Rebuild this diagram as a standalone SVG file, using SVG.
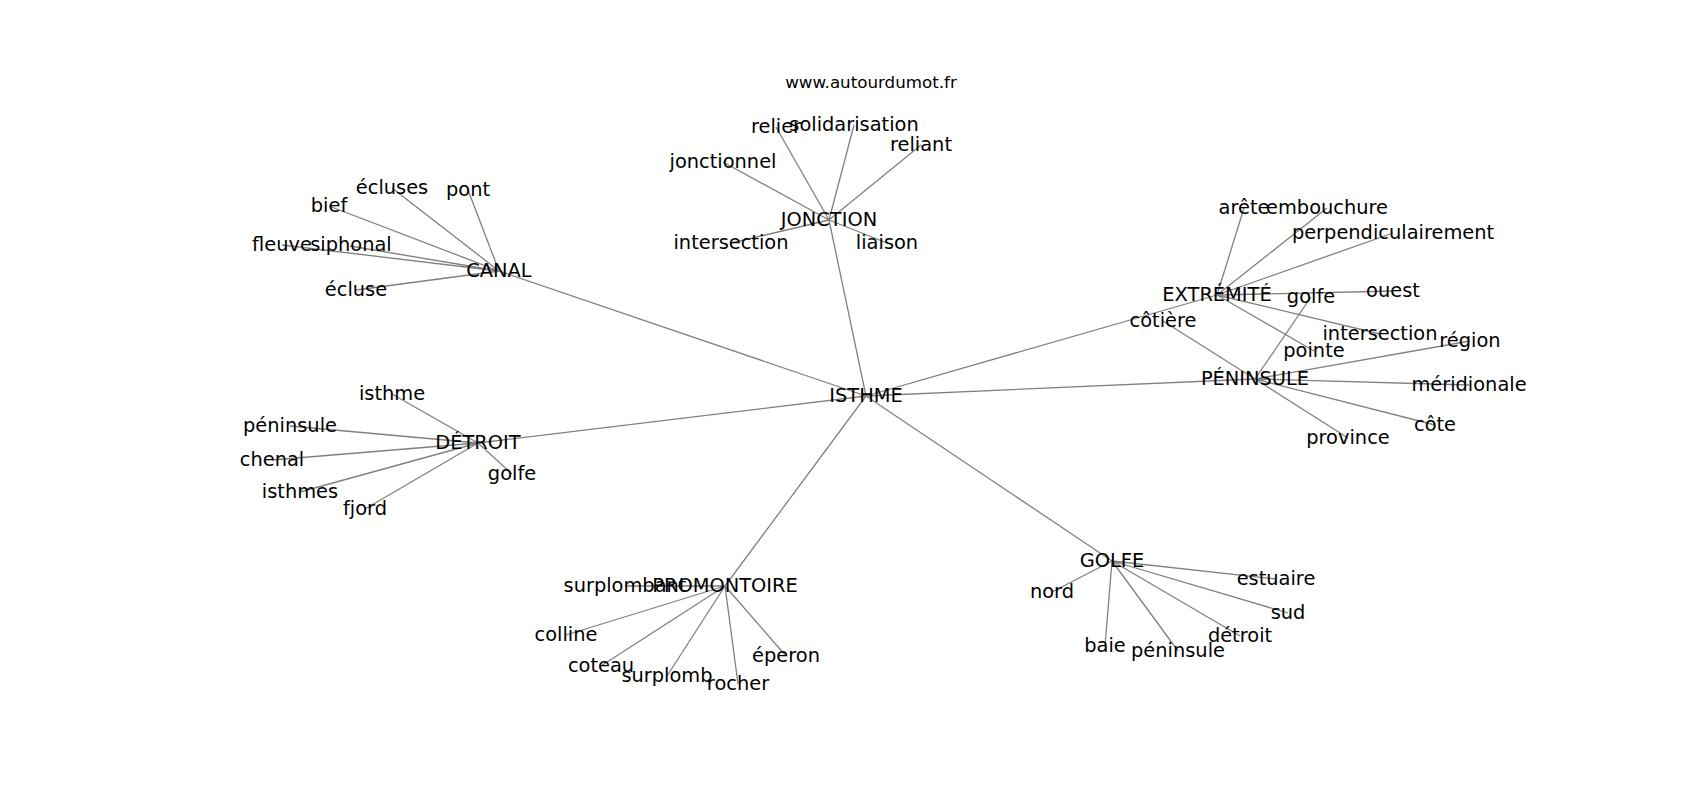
<svg xmlns="http://www.w3.org/2000/svg" width="1700" height="800" viewBox="0 0 1700 800">
<style>
.e{stroke:#808080;stroke-width:1.3;fill:none}
.n text{font-family:"DejaVu Sans",Verdana,sans-serif;font-size:19.4px;fill:#000;text-anchor:middle}
.t{font-family:"DejaVu Sans",Verdana,sans-serif;font-size:16.7px;fill:#000;text-anchor:middle}
</style>
<rect width="1700" height="800" fill="#fff"/>
<text class="t" x="871" y="88">www.autourdumot.fr</text>
<g id="edges" class="e">
<path d="M866 396L829 220M866 396L499 271M866 396L478 443M866 396L725 586M866 396L1112 561M866 396L1217 295M866 396L1255 379"/>
<path d="M829 220L776 127M829 220L854 125M829 220L921 145M829 220L723 162M829 220L731 243M829 220L887 243"/>
<path d="M499 271L392 188M499 271L468 190M499 271L329 206M499 271L282 245M499 271L350 246M499 271L356 290"/>
<path d="M478 443L392 394M478 443L290 426M478 443L272 460M478 443L300 492M478 443L365 509M478 443L512 474"/>
<path d="M725 586L625 586M725 586L566 635M725 586L601 666M725 586L667 676M725 586L738 684M725 586L786 656"/>
<path d="M1112 561L1052 592M1112 561L1276 579M1112 561L1288 613M1112 561L1240 636M1112 561L1178 651M1112 561L1105 646"/>
<path d="M1217 295L1244 208M1217 295L1327 208M1217 295L1393 233M1217 295L1393 291M1217 295L1380 334M1217 295L1314 351"/>
<path d="M1255 379L1163 321M1255 379L1311 297M1255 379L1470 341M1255 379L1469 385M1255 379L1435 425M1255 379L1348 438"/>
</g>
<g class="n">
<g id="n-isthme-c"><text x="866" y="401.5">ISTHME</text></g>
<g id="n-jonction"><text x="829" y="225.5">JONCTION</text></g>
<g id="n-relier"><text x="776" y="132.5">relier</text></g>
<g id="n-solidarisation"><text x="854" y="130.5">solidarisation</text></g>
<g id="n-reliant"><text x="921" y="150.5">reliant</text></g>
<g id="n-jonctionnel"><text x="723" y="167.5">jonctionnel</text></g>
<g id="n-intersection-j"><text x="731" y="248.5">intersection</text></g>
<g id="n-liaison"><text x="887" y="248.5">liaison</text></g>
<g id="n-canal"><text x="499" y="276.5">CANAL</text></g>
<g id="n-ecluses"><text x="392" y="193.5">écluses</text></g>
<g id="n-pont"><text x="468" y="195.5">pont</text></g>
<g id="n-bief"><text x="329" y="211.5">bief</text></g>
<g id="n-fleuve"><text x="282" y="251">fleuve</text></g>
<g id="n-siphonal"><text x="351" y="251">siphonal</text></g>
<g id="n-ecluse"><text x="356" y="295.5">écluse</text></g>
<g id="n-detroit-c"><text x="478" y="448.5">DÉTROIT</text></g>
<g id="n-isthme"><text x="392" y="399.5">isthme</text></g>
<g id="n-peninsule-d"><text x="290" y="431.5">péninsule</text></g>
<g id="n-chenal"><text x="272" y="465.5">chenal</text></g>
<g id="n-isthmes"><text x="300" y="497.5">isthmes</text></g>
<g id="n-fjord"><text x="365" y="514.5">fjord</text></g>
<g id="n-golfe-d"><text x="512" y="479.5">golfe</text></g>
<g id="n-promontoire"><text x="725" y="591.5">PROMONTOIRE</text></g>
<g id="n-surplombant"><text x="625" y="591.5">surplombant</text></g>
<g id="n-colline"><text x="566" y="640.5">colline</text></g>
<g id="n-coteau"><text x="601" y="671.5">coteau</text></g>
<g id="n-surplomb"><text x="667" y="681.5">surplomb</text></g>
<g id="n-rocher"><text x="738" y="689.5">rocher</text></g>
<g id="n-eperon"><text x="786" y="661.5">éperon</text></g>
<g id="n-golfe-c"><text x="1112" y="566.5">GOLFE</text></g>
<g id="n-nord"><text x="1052" y="597.5">nord</text></g>
<g id="n-estuaire"><text x="1276" y="584.5">estuaire</text></g>
<g id="n-sud"><text x="1288" y="618.5">sud</text></g>
<g id="n-detroit"><text x="1240" y="641.5">détroit</text></g>
<g id="n-peninsule-g"><text x="1178" y="656.5">péninsule</text></g>
<g id="n-baie"><text x="1105" y="651.5">baie</text></g>
<g id="n-extremite"><text x="1217" y="300.5">EXTRÉMITÉ</text></g>
<g id="n-arete"><text x="1244" y="213.5">arête</text></g>
<g id="n-embouchure"><text x="1327" y="213.5">embouchure</text></g>
<g id="n-perpendiculairement"><text x="1393" y="238.5">perpendiculairement</text></g>
<g id="n-ouest"><text x="1393" y="296.5">ouest</text></g>
<g id="n-golfe-e"><text x="1311" y="302.5">golfe</text></g>
<g id="n-intersection-e"><text x="1380" y="339.5">intersection</text></g>
<g id="n-pointe"><text x="1314" y="356.5">pointe</text></g>
<g id="n-cotiere"><text x="1163" y="326.5">côtière</text></g>
<g id="n-peninsule-c"><text x="1255" y="384.5">PÉNINSULE</text></g>
<g id="n-region"><text x="1470" y="346.5">région</text></g>
<g id="n-meridionale"><text x="1469" y="390.5">méridionale</text></g>
<g id="n-cote"><text x="1435" y="430.5">côte</text></g>
<g id="n-province"><text x="1348" y="443.5">province</text></g>
</g>
</svg>
